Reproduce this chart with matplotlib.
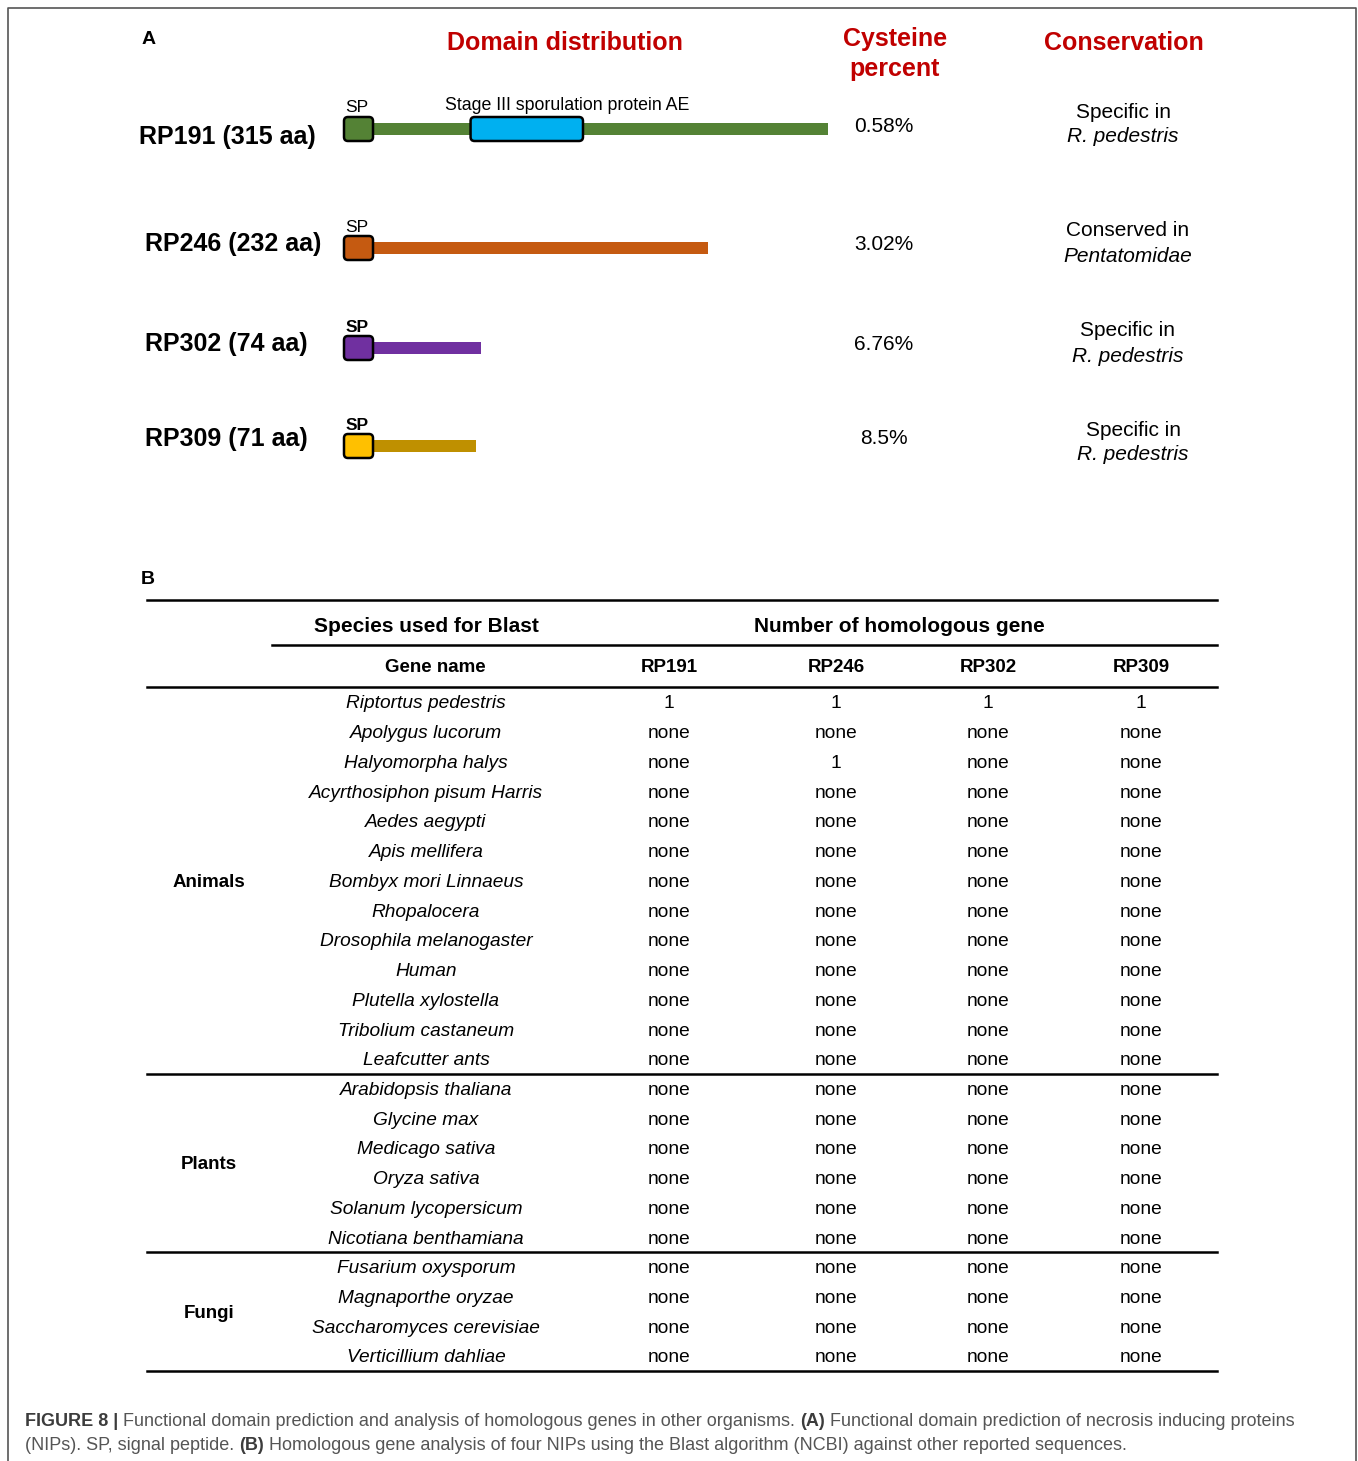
import matplotlib
matplotlib.use("Agg")
import matplotlib.pyplot as plt
from matplotlib.patches import Rectangle, FancyBboxPatch

plt.rcParams['font.family'] = ['Liberation Sans', 'DejaVu Sans']

# ---- panel A data ----
proteins = ["RP191", "RP246", "RP302", "RP309"]
lengths = [315, 232, 74, 71]
cys_pct = ["0.58%", "3.02%", "6.76%", "8.5%"]
cons_line1 = ["Specific in", "Conserved in", "Specific in", "Specific in"]
cons_line2 = ["R. pedestris", "Pentatomidae", "R. pedestris", "R. pedestris"]
sp_colors = ["#548235", "#C55A11", "#7030A0", "#FFC000"]
line_colors = ["#548235", "#C55A11", "#7030A0", "#BF9000"]
sp_bold = [False, False, True, True]
domain_name = "Stage III sporulation protein AE"
domain_aa = (67, 145)  # domain span on RP191, in aa

# ---- panel B data ----
groups = ["Animals", "Plants", "Fungi"]
species = [
    ["Riptortus pedestris", "Apolygus lucorum", "Halyomorpha halys",
     "Acyrthosiphon pisum Harris", "Aedes aegypti", "Apis mellifera",
     "Bombyx mori Linnaeus", "Rhopalocera", "Drosophila melanogaster",
     "Human", "Plutella xylostella", "Tribolium castaneum", "Leafcutter ants"],
    ["Arabidopsis thaliana", "Glycine max", "Medicago sativa", "Oryza sativa",
     "Solanum lycopersicum", "Nicotiana benthamiana"],
    ["Fusarium oxysporum", "Magnaporthe oryzae", "Saccharomyces cerevisiae",
     "Verticillium dahliae"],
]
genes = ["RP191", "RP246", "RP302", "RP309"]
# homologous gene counts (None = none)
hits = {
    "Riptortus pedestris": [1, 1, 1, 1],
    "Halyomorpha halys": [None, 1, None, None],
}

W, H = 1358, 1461
fig = plt.figure(figsize=(W / 100, H / 100), dpi=100)
ax = fig.add_axes([0, 0, 1, 1])
ax.set_xlim(0, W)
ax.set_ylim(H, 0)
ax.axis('off')


def txt(x, y, s, **kw):
    # small nudge so the visual centre of the glyphs sits on y
    kw.setdefault('ha', 'center')
    kw.setdefault('va', 'center')
    return ax.text(x, y + 2, s, **kw)


# outer frame (no bottom edge)
ax.plot([8, 8, 1356, 1356], [H + 5, 8, 8, H + 5], color="#555555", lw=1.2)

red = "#C00000"
txt(149, 37, "A", fontsize=14, fontweight='bold')
txt(565, 41, "Domain distribution", fontsize=18, fontweight='bold', color=red)
txt(895, 52, "Cysteine\npercent", fontsize=18, fontweight='bold', color=red,
    linespacing=1.3)
txt(1124, 41, "Conservation", fontsize=18, fontweight='bold', color=red)

row_y = [129, 248, 348, 446]
label_y = [135, 242, 342, 437]
label_x = [227, 233, 226, 226]
x0 = 374          # where the chain starts (right edge of SP box)
px_per_aa = (828 - x0) / lengths[0]
for i, p in enumerate(proteins):
    y = row_y[i]
    txt(label_x[i], label_y[i], "%s (%d aa)" % (p, lengths[i]), fontsize=18,
        fontweight='bold')
    end = x0 + lengths[i] * px_per_aa
    ax.add_patch(Rectangle((x0 - 2, y - 6), end - x0 + 2, 12, color=line_colors[i], lw=0))
    ax.add_patch(FancyBboxPatch((344, y - 12), 29, 24,
                                boxstyle="round,pad=0,rounding_size=4",
                                fc=sp_colors[i], ec='black', lw=1.8, zorder=3))
    txt(357, y - 23, "SP", fontsize=12.5, fontweight='bold' if sp_bold[i] else 'normal')
    txt(884, label_y[i] - 11 if i == 0 else label_y[i], cys_pct[i], fontsize=15)
    cx = [1123, 1128, 1128, 1133][i]
    ly = [110, 229, 329, 428][i]
    txt(cx, ly, cons_line1[i], fontsize=15)
    txt(cx, ly + 25, cons_line2[i], fontsize=15, style='italic')

# functional domain on RP191
d0 = x0 + domain_aa[0] * px_per_aa
d1 = x0 + domain_aa[1] * px_per_aa
ax.add_patch(FancyBboxPatch((d0, row_y[0] - 12), d1 - d0, 24,
                            boxstyle="round,pad=0,rounding_size=4",
                            fc="#00B0F0", ec='black', lw=1.8, zorder=3))
txt(d0 - 26, row_y[0] - 25, domain_name, fontsize=12.8, ha='left')

# ---- panel B table ----
txt(148, 578, "B", fontsize=14, fontweight='bold')
L, R = 147, 1217
col_x = [669, 836, 988, 1141]
sp_x = 426
ax.plot([L, R], [600, 600], color='black', lw=1.8)
txt(sp_x, 624, "Species used for Blast", fontsize=15, fontweight='bold')
txt(899, 624, "Number of homologous gene", fontsize=15, fontweight='bold')
ax.plot([272, R], [645, 645], color='black', lw=1.8)
txt(435, 666, "Gene name", fontsize=13.5, fontweight='bold')
for g, cx in zip(genes, col_x):
    txt(cx, 666, g, fontsize=13.5, fontweight='bold')
ax.plot([L, R], [687, 687], color='black', lw=1.8)

y_first = 702
step = (1356 - 702) / 22
r = 0
for gi, g in enumerate(groups):
    start = r
    for s in species[gi]:
        y = y_first + r * step
        txt(sp_x, y, s, fontsize=13.8, style='italic')
        vals = hits.get(s, [None] * 4)
        for v, cx in zip(vals, col_x):
            txt(cx, y, "none" if v is None else str(v), fontsize=13.8)
        r += 1
    gy = y_first + (start + r - 1) / 2 * step
    txt(209, gy, g, fontsize=13.5, fontweight='bold')
    line_y = y_first + (r - 0.5) * step
    ax.plot([L, R], [line_y, line_y], color='black', lw=1.8)

# ---- caption ----
cap_lines = [
    [("FIGURE 8 | ", True), ("Functional domain prediction and analysis of homologous genes in other organisms. ", False),
     ("(A)", True), (" Functional domain prediction of necrosis inducing proteins", False)],
    [("(NIPs). SP, signal peptide. ", False), ("(B)", True),
     (" Homologous gene analysis of four NIPs using the Blast algorithm (NCBI) against other reported sequences.", False)],
]
renderer = fig.canvas.get_renderer()
for li, parts in enumerate(cap_lines):
    x = 25
    y = 1419 + li * 25
    for s, bold in parts:
        t = txt(x, y, s, fontsize=13.0, fontweight='bold' if bold else 'normal',
                color="#3c3c3c" if bold else "#555555", ha='left')
        x += t.get_window_extent(renderer).width

fig.savefig("out.png", dpi=100)
